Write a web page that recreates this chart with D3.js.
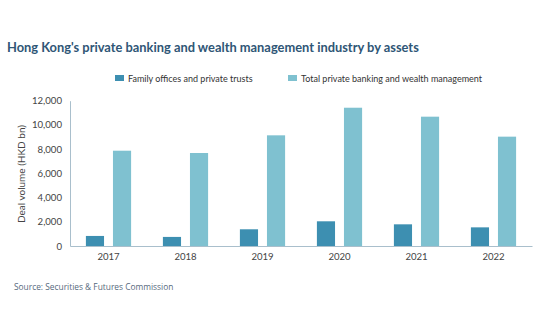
<!DOCTYPE html>
<html>
<head>
<meta charset="utf-8">
<script src="https://cdn.jsdelivr.net/npm/d3@7"></script>
<style>
  html, body { margin: 0; padding: 0; background: #fff; }
  svg { display: block; }
</style>
</head>
<body>
<svg id="chart" width="540" height="334"></svg>
<script>
// Asset figures, HKD bn
const years = ["2017", "2018", "2019", "2020", "2021", "2022"];
const familyOffices = [830, 750, 1380, 2040, 1790, 1540];
const totalPrivateBanking = [7870, 7680, 9140, 11420, 10680, 9030];
const seriesNames = ["Family offices and private trusts", "Total private banking and wealth management"];
const yTicks = [0, 2000, 4000, 6000, 8000, 10000, 12000];

const colors = ["#3d8fb1", "#7fc1d0"];
const svg = d3.select("#chart");

const x = d3.scaleBand().domain(years).range([70, 532]).paddingInner(0).paddingOuter(0);
const x1 = d3.scaleBand().domain([0, 1]).range([-22.6, 22.6]).paddingInner(0.33).paddingOuter(0);
const y = d3.scaleLinear().domain([0, 12000]).range([246, 100.7]);

// Scale a text's font size so it spans the given width
function fitWidth(sel, width) {
  const base = +sel.attr("font-size");
  const w = sel.node().getComputedTextLength();
  if (w > 0) sel.attr("font-size", (base * width / w).toFixed(2));
}

// Title
const title = svg.append("text")
  .attr("x", 7).attr("y", 51.5)
  .attr("font-family", "Lato, sans-serif")
  .attr("font-weight", 700)
  .attr("font-size", 12)
  .attr("fill", "#2f5676")
  .text("Hong Kong's private banking and wealth management industry by assets");
fitWidth(title, 412);

// Legend
const legendX = [115, 288];
seriesNames.forEach((name, i) => {
  const g = svg.append("g").attr("transform", `translate(${legendX[i]},0)`);
  g.append("rect").attr("x", 0).attr("y", 75).attr("width", 9).attr("height", 6).attr("fill", colors[i]);
  g.append("text").attr("x", 13).attr("y", 81.5)
    .attr("font-family", "Lato, sans-serif").attr("font-size", 9).attr("fill", "#333")
    .text(name);
});

// Y axis
const yAxis = d3.axisLeft(y).tickValues(yTicks).tickSize(0).tickPadding(8)
  .tickFormat(d3.format(","));
const yg = svg.append("g").attr("transform", "translate(70,0)").call(yAxis);
yg.select(".domain").attr("stroke", "#a9bfcc").attr("stroke-width", 1);
yg.selectAll("text").attr("font-family", "Lato, sans-serif").attr("font-size", 9.6).attr("fill", "#444").attr("text-anchor", "end");

// X axis
const xAxis = d3.axisBottom(x).tickSize(0).tickPadding(7);
const xg = svg.append("g").attr("transform", "translate(0,246)").call(xAxis);
xg.select(".domain").attr("stroke", "#a9bfcc").attr("stroke-width", 1.2);
xg.selectAll("text").attr("font-family", "Lato, sans-serif").attr("font-size", 9.6).attr("fill", "#444");

// Y label
svg.append("text")
  .attr("transform", "translate(25,174) rotate(-90)")
  .attr("text-anchor", "middle")
  .attr("font-family", "Lato, sans-serif").attr("font-size", 10).attr("fill", "#444")
  .text("Deal volume (HKD bn)");

// Bars
const series = [familyOffices, totalPrivateBanking];
series.forEach((vals, s) => {
  svg.append("g").selectAll("rect")
    .data(years.map((yr, i) => ({ yr, v: vals[i] })))
    .join("rect")
    .attr("x", d => x(d.yr) + x.bandwidth() / 2 + x1(s))
    .attr("width", x1.bandwidth())
    .attr("y", d => y(d.v))
    .attr("height", d => y(0) - y(d.v))
    .attr("fill", colors[s]);
});

// Source
const source = svg.append("text")
  .attr("x", 14).attr("y", 290)
  .attr("font-family", "'Open Sans', sans-serif").attr("font-size", 8.4).attr("fill", "#56697d")
  .text("Source: Securities & Futures Commission");
fitWidth(source, 159);
</script>
</body>
</html>
